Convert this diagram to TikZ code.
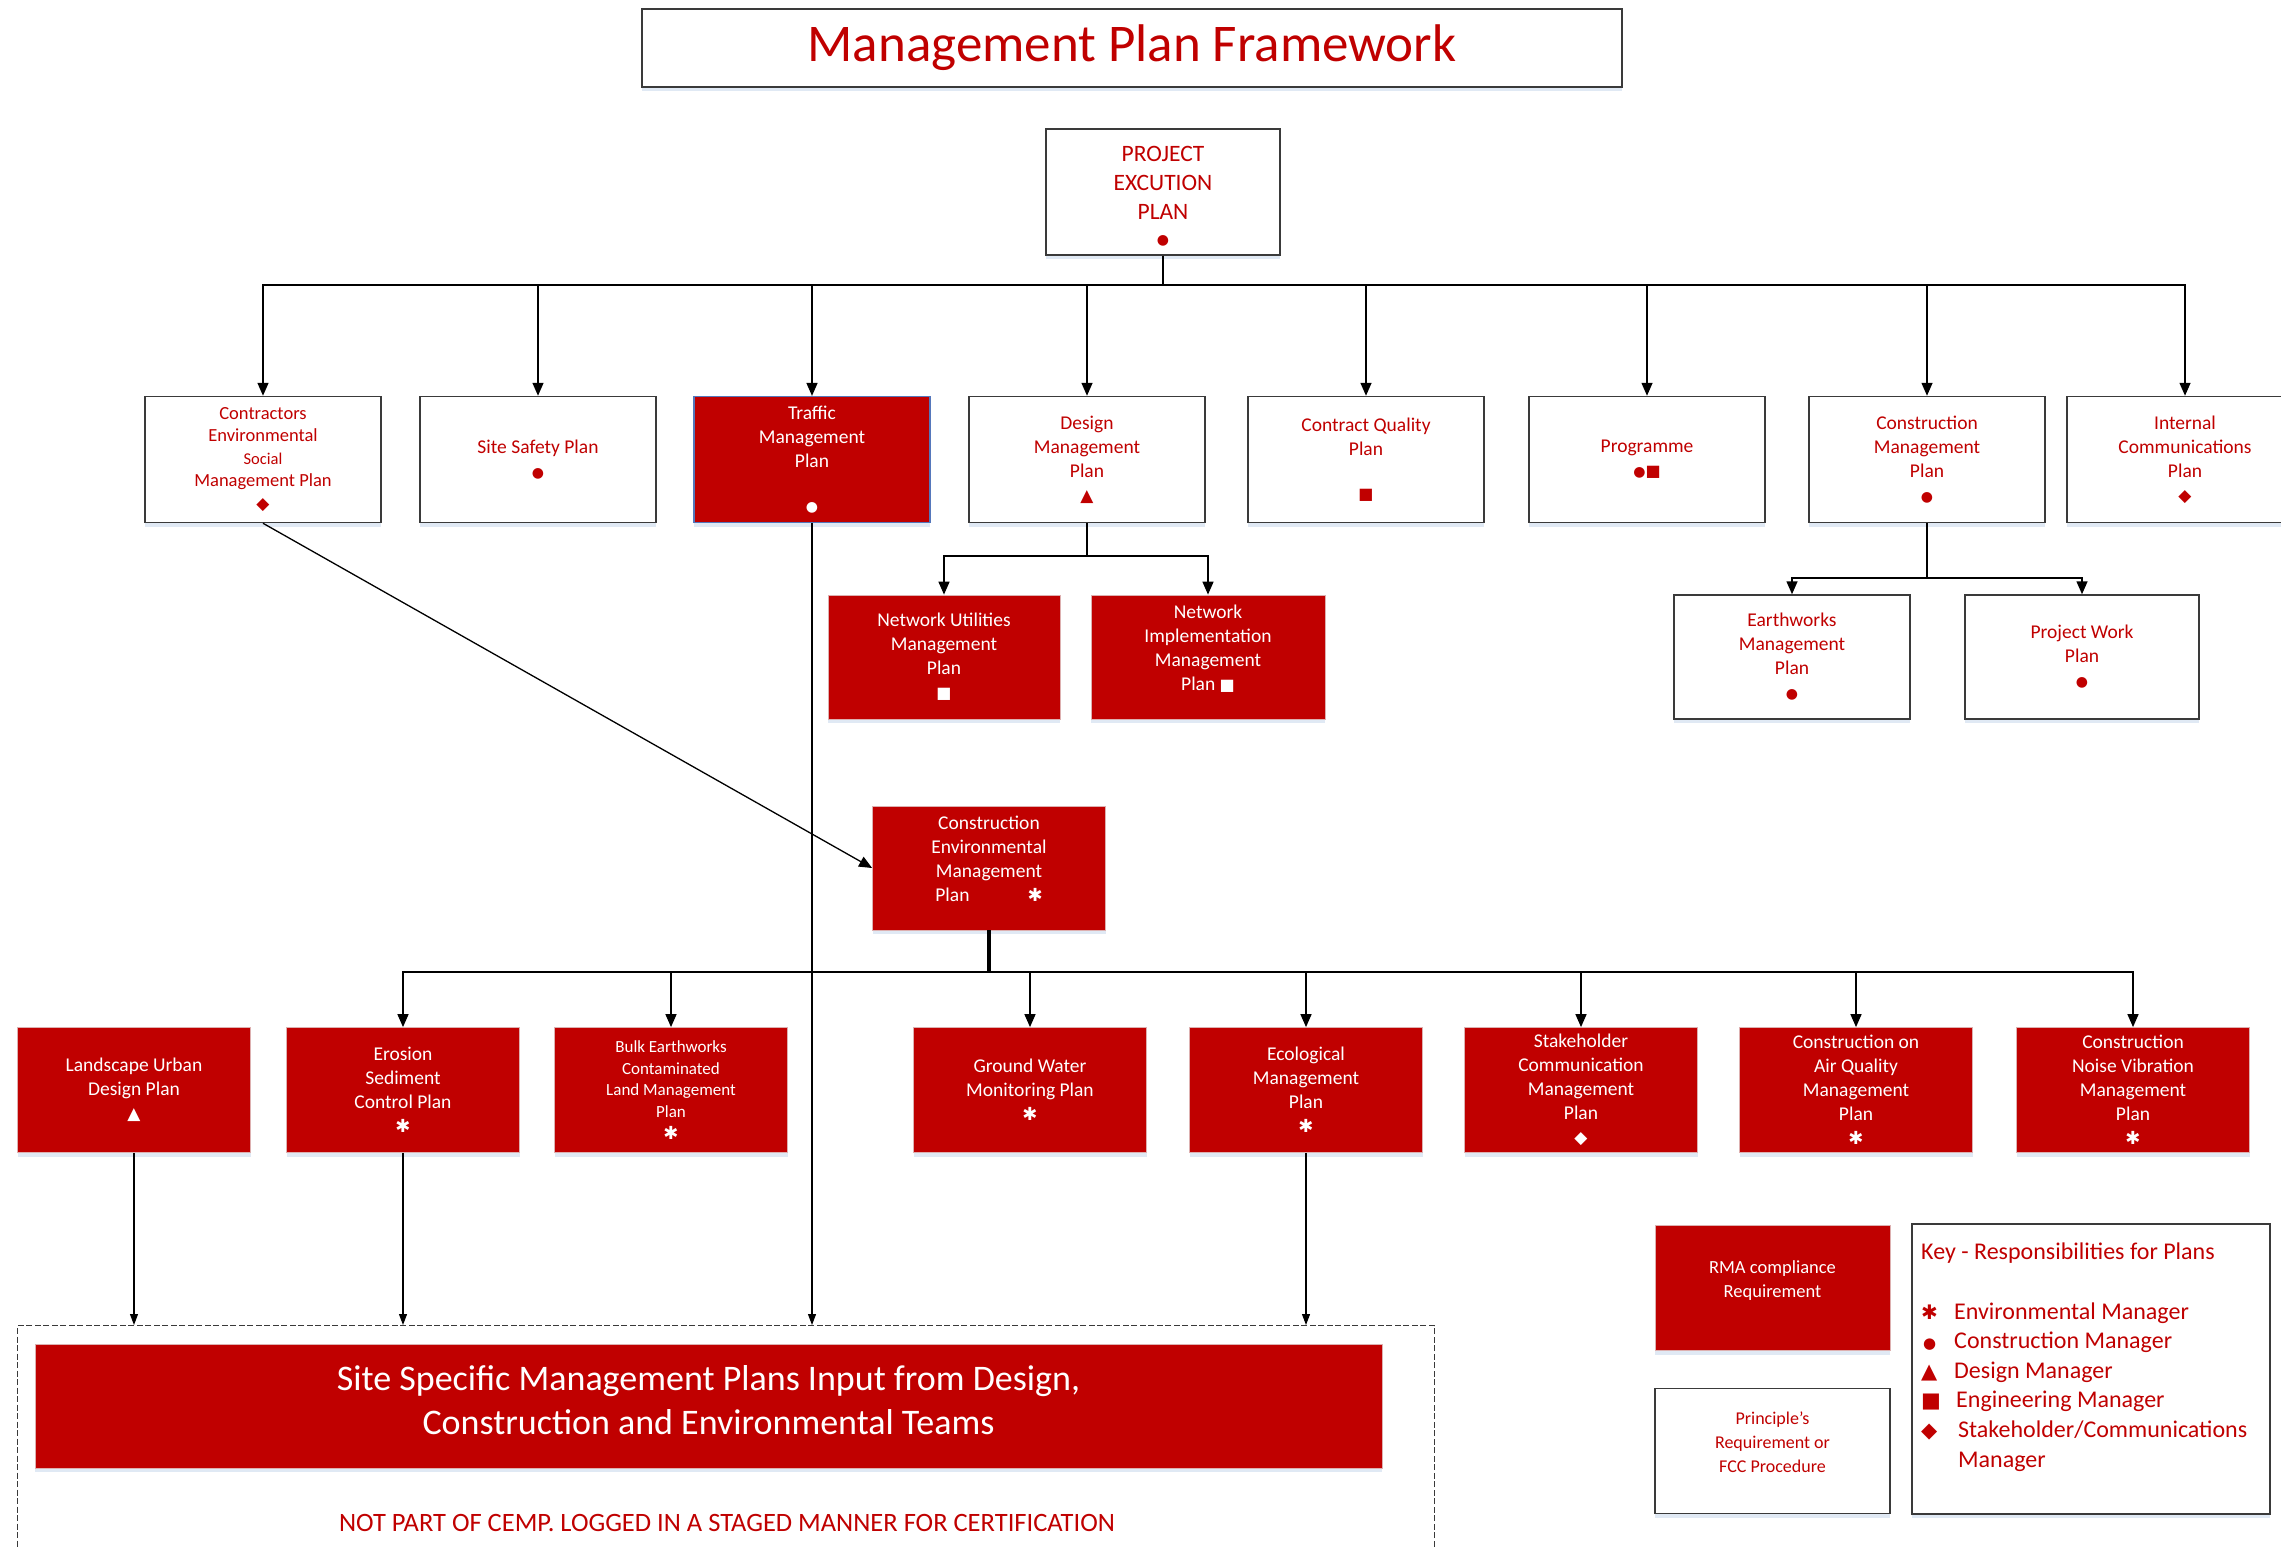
\documentclass[tikz,border=0pt]{standalone}
\usepackage{fontspec}
\setmainfont{Carlito}
\newfontfamily\symf{DejaVu Sans}
\usetikzlibrary{arrows.meta,shadows}
\definecolor{mred}{HTML}{C00000}
\definecolor{bgray}{HTML}{3A3A3A}
\definecolor{rborder}{HTML}{DDB0B0}
\definecolor{tblue}{HTML}{5577BB}
\definecolor{shad}{HTML}{D3E0F0}
\newcommand\mkDot[1][14]{{\symf\fontsize{#1}{#1}\selectfont ●}}
\newcommand\mkTri[1][17]{{\symf\fontsize{#1}{#1}\selectfont ▲}}
\newcommand\mkSq[1][16]{{\symf\fontsize{#1}{#1}\selectfont ■}}
\newcommand\mkDia[1][17]{{\symf\fontsize{#1}{#1}\selectfont ◆}}
\newcommand\mkAst[1][18]{{\symf\fontsize{#1}{#1}\selectfont ✱}}
\begin{document}
\begin{tikzpicture}[x=1pt,y=-1pt,
  sh/.style={drop shadow={shadow xshift=0pt,shadow yshift=-4pt,fill=shad,opacity=0.7}},
  basebox/.style={align=center,inner sep=0pt,minimum width=236pt,minimum height=126pt,
    font=\fontsize{19.5}{24}\selectfont},
  wbox/.style={basebox,sh,draw=bgray,line width=1.5pt,fill=white,text=mred},
  rbox/.style={basebox,sh,draw=rborder,line width=0.8pt,fill=mred,text=white},
  conn/.style={draw=black,line width=1.5pt,-{Triangle[length=13pt,width=11pt]}},
  thinconn/.style={draw=black,line width=1.1pt,-{Triangle[length=11pt,width=8pt]}}]
\useasboundingbox (0,0) rectangle (2281,1548);
\fill[white] (0,0) rectangle (2281,1548);

% title
\node[draw=bgray,line width=1.5pt,fill=white,sh,minimum width=980pt,minimum height=78pt,
  text=mred,font=\fontsize{53}{55}\selectfont,inner sep=0pt] (title) at (1132,48) {Management Plan Framework};

% project
\node[wbox,minimum width=234pt,font=\fontsize{23.5}{29}\selectfont] (proj) at (1163,192)
  {PROJECT\\EXCUTION\\PLAN\\[-4pt]\mkDot\\[-35pt]\mbox{}};

% row 1
\node[wbox,font=\fontsize{18.5}{22.5}\selectfont] (c1) at (263,459.5)
  {Contractors\\Environmental\\{\fontsize{16.5}{22.5}\selectfont Social}\\Management Plan\\\mkDia};
\node[wbox] (c2) at (538,459.5) {Site Safety Plan\\\mkDot};
\node[rbox,draw=tblue,line width=1.2pt] (c3) at (812,459.5) {Traffic\\Management\\Plan\\[20pt]\mkDot};
\node[wbox] (c4) at (1087,459.5) {Design\\Management\\Plan\\\mkTri};
\node[wbox] (c5) at (1366,459.5) {Contract Quality\\Plan\\[20pt]\mkSq};
\node[wbox] (c6) at (1647,459.5) {Programme\\\mkDot\mkSq};
\node[wbox] (c7) at (1927,459.5) {Construction\\Management\\Plan\\\mkDot};
\node[wbox] (c8) at (2185,459.5) {Internal\\Communications\\Plan\\\mkDia};

% row 2
\node[rbox,minimum width=232pt,minimum height=124pt] (nu) at (944,657) {Network Utilities\\Management\\Plan\\\mkSq};
\node[rbox,minimum width=234pt,minimum height=124pt] (ni) at (1208,657) {Network\\Implementation\\Management\\Plan \mkSq\\[-6pt]\mbox{}};
\node[wbox,minimum height=124pt] (ew) at (1792,657) {Earthworks\\Management\\Plan\\\mkDot};
\node[wbox,minimum width=234pt,minimum height=124pt] (pw) at (2082,657) {Project Work\\Plan\\\mkDot};

% CEMP
\node[rbox,minimum width=233pt,minimum height=124pt] (cemp) at (989,868)
  {Construction\\Environmental\\Management\\Plan\hspace{58pt}\mkAst\\[-5pt]\mbox{}};

% row 3
\tikzset{r3/.style={rbox,minimum width=233pt,minimum height=125pt}}
\node[r3] (b1) at (134,1090) {Landscape Urban\\Design Plan\\\mkTri};
\node[r3] (b2) at (403,1090) {Erosion\\Sediment\\Control Plan\\\mkAst};
\node[r3,font=\fontsize{17}{21.6}\selectfont] (b3) at (671,1090) {Bulk Earthworks\\Contaminated\\Land Management\\Plan\\\mkAst};
\node[r3] (b4) at (1030,1090) {Ground Water\\Monitoring Plan\\\mkAst};
\node[r3] (b5) at (1306,1090) {Ecological\\Management\\Plan\\\mkAst};
\node[r3] (b6) at (1581,1090) {Stakeholder\\Communication\\Management\\Plan\\\mkDia};
\node[r3] (b7) at (1856,1090) {Construction on\\Air Quality\\Management\\Plan\\\mkAst};
\node[r3] (b8) at (2133,1090) {Construction\\Noise Vibration\\Management\\Plan\\\mkAst};

% dashed container and banner
\node[draw=bgray,line width=1.4pt,dash pattern=on 6pt off 2.5pt,minimum width=1417pt,minimum height=300pt,
  inner sep=0pt,anchor=north west] (dash) at (17,1325) {};
\node[rbox,minimum width=1347pt,minimum height=124pt,font=\fontsize{36}{44}\selectfont] (banner) at (708.5,1406)
  {Site Specific Management Plans Input from Design,\\Construction and Environmental Teams\\[-32pt]\mbox{}};
\node[text=mred,font=\fontsize{26.5}{28}\selectfont,inner sep=0pt] (notpart) at (727,1523)
  {NOT PART OF CEMP. LOGGED IN A STAGED MANNER FOR CERTIFICATION};

% legend boxes
\node[rbox,minimum width=235pt,minimum height=125pt,font=\fontsize{18.5}{24}\selectfont] (rma) at (1772.5,1288)
  {RMA compliance\\Requirement\\[-6pt]\mbox{}};
\node[wbox,minimum width=235pt,minimum height=125pt,font=\fontsize{18}{24}\selectfont] (princ) at (1772.5,1451)
  {Principle's\\Requirement or\\FCC Procedure\\[-6pt]\mbox{}};
\node[draw=bgray,line width=1.5pt,fill=white,sh,minimum width=358pt,minimum height=290pt,inner sep=0pt,
  anchor=north west] (key) at (1911,1223) {};
\node[anchor=north west,align=left,text=mred,inner sep=0pt,font=\fontsize{24}{29.6}\selectfont] (keytxt) at (1921,1243)
  {Key - Responsibilities for Plans\\[29.6pt]
   \makebox[33pt][l]{\mkAst[20]}Environmental Manager\\
   \makebox[33pt][l]{\hspace{2pt}\mkDot[15]}Construction Manager\\
   \makebox[33pt][l]{\mkTri[21]}Design Manager\\
   \makebox[35pt][l]{\mkSq[21]}Engineering Manager\\
   \makebox[37pt][l]{\mkDia[21]}Stakeholder/Communications\\
   \hspace{37pt}Manager};

% connectors: project -> row 1
\coordinate (busT) at (0,285);
\foreach \n in {c1,c2,c3,c4,c5,c6,c7,c8}
  \draw[conn] (proj.south) -- (proj.south |- busT) -| (\n.north);
% design -> network plans
\coordinate (busD) at (0,556);
\foreach \n in {nu,ni}
  \draw[conn] (c4.south) -- (c4.south |- busD) -| (\n.north);
% construction -> earthworks, project work
\coordinate (busC) at (0,578);
\foreach \n in {ew,pw}
  \draw[conn] (c7.south) -- (c7.south |- busC) -| (\n.north);
% contractors -> CEMP
\draw[conn,line width=1.3pt] (c1.south) -- (cemp.west);
% CEMP -> row 3
\coordinate (busE) at (0,972);
\draw[line width=3.5pt] (cemp.south) -- (cemp.south |- busE);
\foreach \n in {b2,b3,b4,b5,b6,b7,b8}
  \draw[conn] (cemp.south |- busE) -| (\n.north);
% into dashed container
\draw[thinconn] (c3.south) -- (c3.south |- dash.north);
\foreach \n in {b1,b2,b5}
  \draw[thinconn] (\n.south) -- (\n.south |- dash.north);
\end{tikzpicture}
\end{document}
